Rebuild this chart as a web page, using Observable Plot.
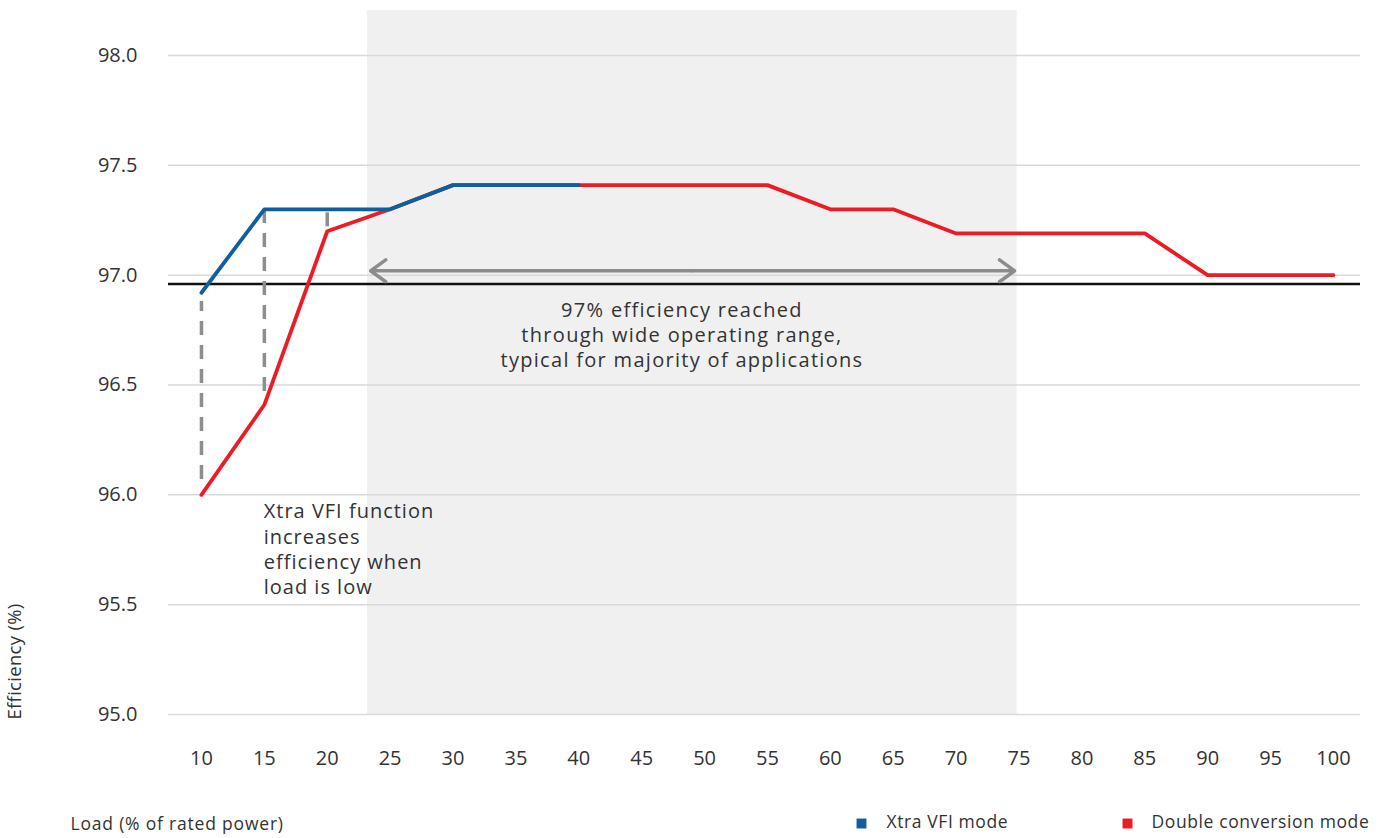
<!DOCTYPE html>
<html><head><meta charset="utf-8">
<script src="https://cdn.jsdelivr.net/npm/d3@7"></script>
<script src="https://cdn.jsdelivr.net/npm/@observablehq/plot@0.6"></script>
<style>
body{margin:0;background:#fff;} svg{display:block}
</style>
</head><body><div id="chart"></div>
<script>
// ---- data ----
const loads = [10,15,20,25,30,35,40,45,50,55,60,65,70,75,80,85,90,95,100];
const xtraLoads = [10,15,20,25,30,35,40];
const xtraVFI = [96.92,97.30,97.30,97.30,97.41,97.41,97.41];
const doubleConv = [96.00,96.41,97.20,97.30,97.41,97.41,97.41,97.41,97.41,97.41,97.30,97.30,97.19,97.19,97.19,97.19,97.00,97.00,97.00];
const yTicks = [95.0,95.5,96.0,96.5,97.0,97.5,98.0];
const threshold = [96.96];
const shade = [{x1:23.2, x2:74.85}];
const arrowSpan = [{x1:23.45, x2:74.65, y:97.02}];
const dropLines = [
  {x:10, y1:96.07, y2:96.88},
  {x:15, y1:96.47, y2:97.29},
  {x:20, y1:97.22, y2:97.29}
];
const noteRange = [{x:48.2, y:96.73, text:"97% efficiency reached\nthrough wide operating range,\ntypical for majority of applications"}];
const noteVFI = [{x:14.95, y:95.757, text:"Xtra VFI function\nincreases\nefficiency when\nload is low"}];
const seriesNames = ["Xtra VFI mode","Double conversion mode"];
const seriesColors = ["#0f5f9f","#ed1c24"];
const xLabel = "Load (% of rated power)";
const yLabel = "Efficiency (%)";

const red = loads.map((l,i)=>({load:l, eff:doubleConv[i]}));
const blue = xtraLoads.map((l,i)=>({load:l, eff:xtraVFI[i]}));
const mid = arrowSpan.map(a=>({...a, m:(a.x1+a.x2)/2}));

const chart = Plot.plot({
  width: 1386,
  height: 838,
  marginLeft: 168,
  marginRight: 26,
  marginTop: 10,
  marginBottom: 124,
  style: {fontFamily: "'Open Sans', sans-serif", fontSize: "20px", color: "#333", background: "#fff"},
  x: {type: "linear", domain: [7.38, 102.15]},
  y: {domain: [95, 98.205]},
  marks: [
    Plot.rect(shade, {x1:"x1", x2:"x2", y1:95, y2:98.205, fill:"#f0f0f0"}),
    Plot.ruleY(yTicks, {stroke:"#d9d9d9", strokeWidth:1.5}),
    Plot.axisY({ticks: yTicks, tickSize: 0, tickPadding: 31, tickFormat: d3.format(".1f"), label: null, fontSize: 20}),
    Plot.axisX({ticks: loads, tickSize: 0, tickPadding: 36, tickFormat: d=>String(d), label: null, fontSize: 20}),
    Plot.ruleY(threshold, {stroke:"#111", strokeWidth:2.5}),
    Plot.arrow(mid, {x1:"m", x2:"x1", y1:"y", y2:"y", stroke:"#8c8c8c", strokeWidth:3.5, headLength:8, headAngle:72}),
    Plot.arrow(mid, {x1:"m", x2:"x2", y1:"y", y2:"y", stroke:"#8c8c8c", strokeWidth:3.5, headLength:8, headAngle:72}),
    Plot.ruleX(dropLines, {x:"x", y1:"y1", y2:"y2", stroke:"#8e8e8e", strokeWidth:3.5, strokeDasharray:"14,10"}),
    Plot.line(red, {x:"load", y:"eff", stroke:seriesColors[1], strokeWidth:3.8}),
    Plot.line(blue, {x:"load", y:"eff", stroke:seriesColors[0], strokeWidth:3.8}),
    Plot.text(noteRange, {x:"x", y:"y", text:"text", textAnchor:"middle", lineHeight:1.25, fontSize:20, fill:"#333"}),
    Plot.text(noteVFI, {x:"x", y:"y", text:"text", textAnchor:"start", lineHeight:1.27, fontSize:20, fill:"#333"}),
    // axis titles
    Plot.text([xLabel], {frameAnchor:"bottom-left", text:d=>d, dx:-98, dy:115, textAnchor:"start", fontSize:17.5, fill:"#333"}),
    Plot.text([yLabel], {frameAnchor:"left", text:d=>d, dx:-153, dy:299, rotate:-90, textAnchor:"middle", fontSize:18.5, fill:"#333"}),
    // legend
    Plot.dot([0], {frameAnchor:"bottom-left", dx:693, dy:109, symbol:"square", r:5.6, fill:seriesColors[0], stroke:null}),
    Plot.text([seriesNames[0]], {frameAnchor:"bottom-left", text:d=>d, dx:718, dy:113, textAnchor:"start", fontSize:17.5, fill:"#333"}),
    Plot.dot([0], {frameAnchor:"bottom-left", dx:959, dy:109, symbol:"square", r:5.6, fill:seriesColors[1], stroke:null}),
    Plot.text([seriesNames[1]], {frameAnchor:"bottom-left", text:d=>d, dx:983, dy:113, textAnchor:"start", fontSize:17.5, fill:"#333"})
  ]
});
// letter spacing to approximate the wider original typeface
d3.select(chart).selectAll('g[aria-label="text"] text').each(function(){
  const t = this.textContent;
  let ls = "0.6px";
  if (t.startsWith("97%")) ls = "1.3px";
  else if (t.startsWith("Xtra VFI function")) ls = "1px";
  else if (t === yLabel) ls = "0.3px";
  else if (t === xLabel) ls = "0.8px";
  this.style.letterSpacing = ls;
});
document.getElementById("chart").appendChild(chart);
</script>
</body></html>
